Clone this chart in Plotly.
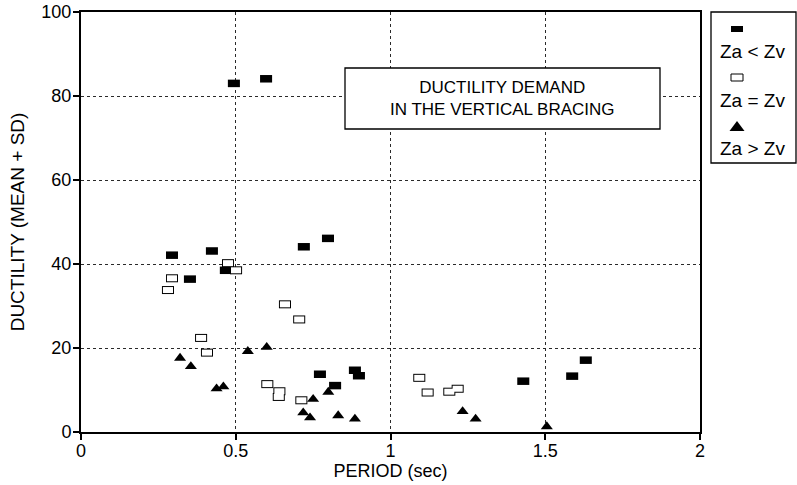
import plotly.graph_objects as go

# Ductility demand (mean + SD) against period, grouped by Za/Zv ratio
# Za < Zv : filled rectangles
period_lt = [0.494, 0.598, 0.294, 0.423, 0.352, 0.468, 0.720, 0.798,
             0.772, 0.821, 0.885, 0.898, 1.429, 1.587, 1.631]
duct_lt = [83.0, 84.1, 42.1, 43.1, 36.4, 38.5, 44.1, 46.1,
           13.75, 11.05, 14.7, 13.4, 12.1, 13.3, 17.1]

# Za = Zv : open rectangles
period_eq = [0.281, 0.294, 0.475, 0.501, 0.659, 0.705, 0.388, 0.407,
             0.602, 0.641, 0.639, 0.712, 1.093, 1.120, 1.190, 1.217]
duct_eq = [33.8, 36.6, 40.2, 38.5, 30.4, 26.8, 22.4, 18.9,
           11.4, 9.7, 8.35, 7.55, 12.9, 9.4, 9.6, 10.3]

# Za > Zv : filled triangles
period_gt = [0.320, 0.355, 0.438, 0.460, 0.539, 0.600, 0.718, 0.740,
             0.750, 0.799, 0.831, 0.885, 1.233, 1.275, 1.505]
duct_gt = [17.6, 15.6, 10.3, 10.8, 19.2, 20.2, 4.6, 3.4,
           7.8, 9.5, 3.9, 3.1, 4.9, 3.1, 1.3]

legend_labels = ["Za < Zv", "Za = Zv", "Za > Zv"]
x_ticks = [0, 0.5, 1, 1.5, 2]
x_tick_text = ["0", "0.5", "1", "1.5", "2"]
y_ticks = [0, 20, 40, 60, 80, 100]
box_title = "DUCTILITY DEMAND<br>IN THE VERTICAL BRACING"

FONT = "Liberation Sans, Arial, Helvetica, sans-serif"
W, H = 797, 485
ML, MR, MT, MB = 81, 97, 12, 53
PW, PH = W - ML - MR, H - MT - MB


def pxx(xp):
    """pixel column -> paper x"""
    return (xp - ML) / PW


def pxy(yp):
    """pixel row (from top) -> paper y"""
    return (H - MB - yp) / PH


fig = go.Figure()

# rectangles are drawn as thick horizontal line markers (butt caps)
fig.add_trace(go.Scatter(
    x=period_lt, y=duct_lt, mode="markers", name=legend_labels[0],
    marker=dict(symbol="line-ew", size=8.6, line=dict(width=7.5, color="black")),
    showlegend=False, cliponaxis=False))
fig.add_trace(go.Scatter(
    x=period_eq, y=duct_eq, mode="markers", name=legend_labels[1],
    marker=dict(symbol="line-ew", size=8.6, line=dict(width=8, color="black")),
    showlegend=False, cliponaxis=False))
fig.add_trace(go.Scatter(
    x=period_eq, y=duct_eq, mode="markers", name=legend_labels[1],
    marker=dict(symbol="line-ew", size=7.2, line=dict(width=6, color="white")),
    showlegend=False, cliponaxis=False, hoverinfo="skip"))
fig.add_trace(go.Scatter(
    x=period_gt, y=duct_gt, mode="markers", name=legend_labels[2],
    marker=dict(symbol="triangle-up", size=10.5, color="black", line=dict(width=0)),
    showlegend=False, cliponaxis=False))

shapes = []
annotations = []

# boxed caption inside the plot
shapes.append(dict(type="rect", xref="paper", yref="paper",
                   x0=pxx(345), x1=pxx(660), y0=pxy(129), y1=pxy(68),
                   fillcolor="white", line=dict(color="black", width=1.3),
                   layer="above"))
annotations.append(dict(text=box_title, xref="paper", yref="paper",
                        x=pxx(502.5), y=pxy(98.5), xanchor="center", yanchor="middle",
                        showarrow=False, align="center",
                        font=dict(family=FONT, size=17, color="black")))

# hand-built legend: key symbol above each label
shapes.append(dict(type="rect", xref="paper", yref="paper",
                   x0=pxx(711), x1=pxx(796), y0=pxy(163), y1=pxy(12),
                   fillcolor="white", line=dict(color="black", width=1.3)))
row_gap = 48.5
key_top, label_top, key_x, label_x = 29, 51.5, 737, 752
for i, lab in enumerate(legend_labels):
    ky = key_top + i * row_gap
    ly = label_top + i * row_gap
    annotations.append(dict(text=lab, xref="paper", yref="paper",
                            x=pxx(label_x), y=pxy(ly), xanchor="center", yanchor="middle",
                            showarrow=False,
                            font=dict(family=FONT, size=19, color="black")))
    if i == 0:
        shapes.append(dict(type="rect", xref="paper", yref="paper",
                           x0=pxx(key_x - 6), x1=pxx(key_x + 6),
                           y0=pxy(ky + 3), y1=pxy(ky - 3),
                           fillcolor="black", line=dict(width=0)))
    elif i == 1:
        shapes.append(dict(type="rect", xref="paper", yref="paper",
                           x0=pxx(key_x - 6), x1=pxx(key_x + 6),
                           y0=pxy(ky + 3.5), y1=pxy(ky - 3.5),
                           fillcolor="white", line=dict(color="black", width=1)))
    else:
        path = "M {} {} L {} {} L {} {} Z".format(
            pxx(key_x - 7.5), pxy(ky + 5), pxx(key_x + 7.5), pxy(ky + 5),
            pxx(key_x), pxy(ky - 5))
        shapes.append(dict(type="path", xref="paper", yref="paper", path=path,
                           fillcolor="black", line=dict(width=0)))

axis_common = dict(
    showline=True, mirror=True, linecolor="black", linewidth=2,
    ticks="outside", ticklen=6, tickwidth=1.5, tickcolor="black",
    showgrid=True, gridcolor="#2a2a2a", gridwidth=1, griddash="dot",
    zeroline=False, automargin=False,
    tickfont=dict(family=FONT, size=18, color="black"),
)

fig.update_layout(
    width=W, height=H,
    margin=dict(l=ML, r=MR, t=MT, b=MB, pad=0, autoexpand=False),
    paper_bgcolor="white", plot_bgcolor="white",
    font=dict(family=FONT, size=18, color="black"),
    xaxis=dict(range=[0, 2], tickvals=x_ticks, ticktext=x_tick_text,
               ticklabelstandoff=-5,
               title=dict(text="PERIOD (sec)", standoff=0,
                          font=dict(family=FONT, size=18, color="black")),
               **axis_common),
    yaxis=dict(range=[0, 100], tickvals=y_ticks,
               ticklabelstandoff=-2,
               title=dict(text="DUCTILITY (MEAN + SD)", standoff=12,
                          font=dict(family=FONT, size=19, color="black")),
               **axis_common),
    shapes=shapes, annotations=annotations, showlegend=False,
)

fig.write_html("out.html")
